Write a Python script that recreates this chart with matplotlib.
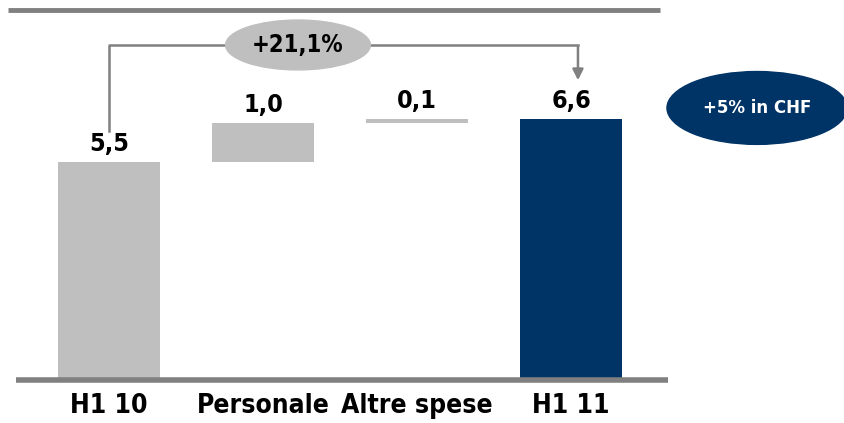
import matplotlib
matplotlib.use("Agg")
import matplotlib.pyplot as plt
from matplotlib.patches import Ellipse

CATEGORIES = ["H1 10", "Personale", "Altre spese", "H1 11"]
VALUES = [5.5, 1.0, 0.1, 6.6]
LABELS = ["5,5", "1,0", "0,1", "6,6"]
GROWTH = "+21,1%"
CHF_NOTE = "+5% in CHF"

GREY = "#bfbfbf"
DARK = "#003366"
LINE = "#808080"

plt.rcParams["font.family"] = ["DejaVu Sans"]
plt.rcParams["font.stretch"] = "condensed"

fig = plt.figure(figsize=(8.45, 4.23), dpi=100)
ax = fig.add_axes([0, 0, 1, 1])
ax.set_xlim(-0.708, 4.779)
ax.set_ylim(-1.086, 9.596)
ax.axis("off")

# waterfall: totals from 0, deltas stacked on the running sum
bottoms = []
running = 0.0
for i, v in enumerate(VALUES):
    if i == 0 or i == len(VALUES) - 1:
        bottoms.append(0.0)
        running = v
    else:
        bottoms.append(running)
        running += v
colors = [GREY, GREY, GREY, DARK]
ax.bar(range(len(VALUES)), VALUES, bottom=bottoms, width=0.66, color=colors, zorder=2)

for i, (v, b, lab) in enumerate(zip(VALUES, bottoms, LABELS)):
    ax.text(i, b + v + 0.15, lab, ha="center", va="bottom",
            fontsize=18, fontweight="bold", fontstretch="condensed")

for i, cat in enumerate(CATEGORIES):
    ax.text(i, -0.65, cat, ha="center", va="center", fontsize=19,
            fontweight="bold", fontstretch="condensed")

# baseline and top rule
ax.plot([-0.604, 3.63], [0, 0], color=LINE, lw=4, solid_capstyle="butt", zorder=3)
ax.plot([-0.656, 3.578], [9.34, 9.34], color=LINE, lw=3.5, solid_capstyle="butt")

# growth connector
y_conn = 8.46
ax.plot([0, 0, 3.045], [6.3, y_conn, y_conn], color=LINE, lw=1.8)
ax.annotate("", xy=(3.045, 7.5), xytext=(3.045, y_conn + 0.02),
            arrowprops=dict(arrowstyle="-|>", color=LINE, lw=1.8, mutation_scale=16))
ax.add_patch(Ellipse((1.227, y_conn), 0.94, 1.26, color=GREY, zorder=4))
ax.text(1.227, y_conn, GROWTH, ha="center", va="center", fontsize=17,
        fontweight="bold", fontstretch="condensed", zorder=5)

ax.add_patch(Ellipse((4.208, 6.87), 1.17, 1.84, color=DARK, zorder=4))
ax.text(4.208, 6.87, CHF_NOTE, ha="center", va="center", fontsize=12,
        fontweight="bold", color="white", fontstretch="normal", zorder=5)

fig.savefig("out.png", dpi=100)
